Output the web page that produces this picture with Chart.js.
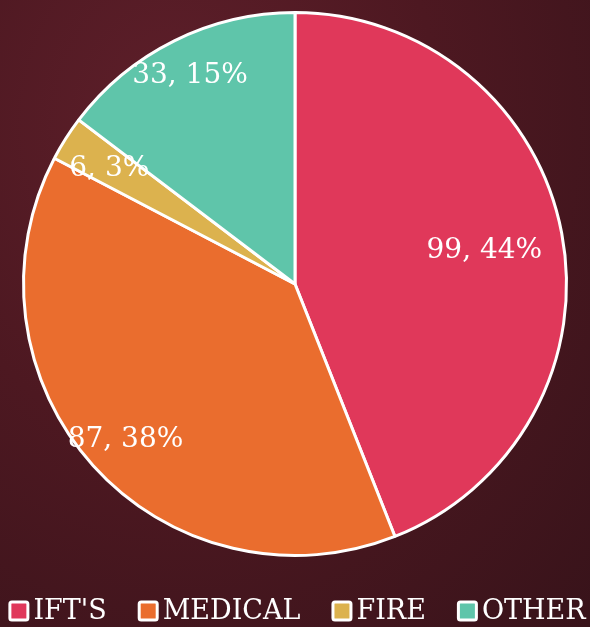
<!DOCTYPE html>
<html lang="en">
<head>
<meta charset="utf-8">
<script src="https://cdn.jsdelivr.net/npm/chart.js@4.4.1/dist/chart.umd.min.js"></script>
<style>
    html, body { margin: 0; padding: 0; }
    body {
        width: 590px; height: 627px; overflow: hidden;
        background: radial-gradient(ellipse at 30% 20%, #5e1f2a 0%, #4d1821 45%, #38131a 100%);
    }
    #wrap { position: relative; width: 590px; height: 627px; }
</style>
</head>
<body>
<div id="wrap"><canvas id="pieChart" width="590" height="627"></canvas></div>

<script>
    // data
    const categories = ["IFT'S", "MEDICAL", "FIRE", "OTHER"];
    const counts = [99, 87, 6, 33];
    const percents = [44, 38, 3, 15];
    const colors = ['#e0385a', '#ea6d2e', '#dcb24e', '#5fc5aa'];

    // draw "value, pct%" inside each slice
    const sliceLabels = {
        id: 'sliceLabels',
        afterDatasetsDraw(chart, args, opts) {
            const ctx = chart.ctx;
            const meta = chart.getDatasetMeta(0);
            ctx.save();
            ctx.font = opts.font;
            ctx.fillStyle = '#ffffff';
            ctx.textAlign = 'center';
            ctx.textBaseline = 'middle';
            meta.data.forEach((arc, i) => {
                const p = arc.getProps(['x', 'y', 'startAngle', 'endAngle', 'outerRadius']);
                const mid = (p.startAngle + p.endAngle) / 2;
                const r = p.outerRadius * opts.radius[i];
                ctx.fillText(counts[i] + ', ' + percents[i] + '%',
                    p.x + Math.cos(mid) * r, p.y + Math.sin(mid) * r + 3);
            });
            ctx.restore();
        }
    };

    // legend row along the bottom edge, like the slide's
    const bottomLegend = {
        id: 'bottomLegend',
        afterDraw(chart, args, opts) {
            const ctx = chart.ctx;
            ctx.save();
            ctx.font = opts.font;
            const box = 21, gap = 4, spacing = 31;
            const widths = categories.map(c => ctx.measureText(c).width);
            const total = widths.reduce((a, b) => a + b, 0) + categories.length * (box + gap) + (categories.length - 1) * spacing;
            let x = (chart.width - total) / 2 + 2;
            const y = opts.y;
            ctx.textBaseline = 'middle';
            categories.forEach((c, i) => {
                ctx.fillStyle = colors[i];
                ctx.strokeStyle = '#ffffff';
                ctx.lineWidth = 3;
                ctx.beginPath();
                ctx.roundRect(x + 1.5, y - box / 2 + 1.5, box - 3, box - 3, 2);
                ctx.fill();
                ctx.stroke();
                ctx.fillStyle = '#ffffff';
                ctx.fillText(c, x + box + gap, y + 1);
                x += box + gap + widths[i] + spacing;
            });
            ctx.restore();
        }
    };

    new Chart(document.getElementById('pieChart'), {
        type: 'pie',
        data: {
            labels: categories,
            datasets: [{
                data: counts,
                backgroundColor: colors,
                borderColor: '#ffffff',
                borderWidth: 3
            }]
        },
        options: {
            responsive: false,
            animation: false,
            layout: { padding: { top: 11, bottom: 70, left: 0, right: 0 } },
            plugins: {
                tooltip: { enabled: false },
                legend: { display: false },
                sliceLabels: {
                    font: '28px "DejaVu Serif"',
                    radius: [0.71, 0.84, 0.81, 0.87]
                },
                bottomLegend: {
                    font: '27px "DejaVu Serif"',
                    y: 611
                }
            }
        },
        plugins: [sliceLabels, bottomLegend]
    });
</script>
</body>
</html>
